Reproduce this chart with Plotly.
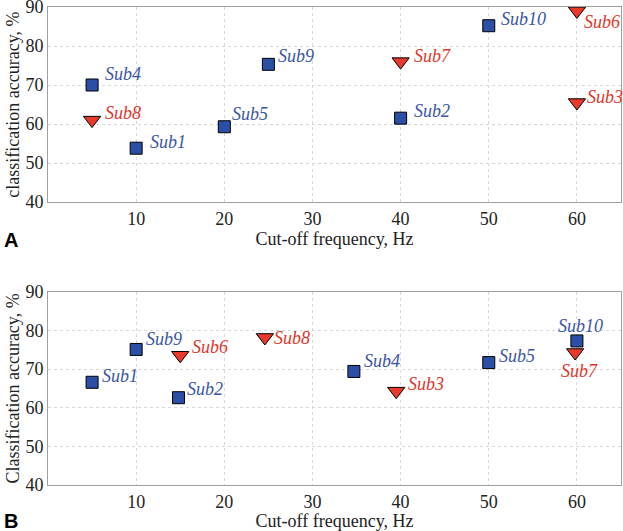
import plotly.graph_objects as go

# ---- Panel A data ----
a_sq_names = ["Sub4", "Sub1", "Sub5", "Sub9", "Sub2", "Sub10"]
a_sq_x = [5, 10, 20, 25, 40, 50]
a_sq_y = [70.0, 53.8, 59.3, 75.3, 61.5, 85.2]
a_tri_names = ["Sub8", "Sub7", "Sub6", "Sub3"]
a_tri_x = [5, 40, 60, 60]
a_tri_y = [61.0, 76.0, 89.0, 65.5]

# ---- Panel B data ----
b_sq_names = ["Sub1", "Sub9", "Sub2", "Sub4", "Sub5", "Sub10"]
b_sq_x = [5, 10, 14.8, 34.7, 50, 60]
b_sq_y = [66.6, 75.1, 62.6, 69.4, 71.7, 77.3]
b_tri_names = ["Sub6", "Sub8", "Sub3", "Sub7"]
b_tri_x = [15, 24.6, 39.5, 59.8]
b_tri_y = [73.6, 78.2, 64.3, 74.3]

x_ticks = [10, 20, 30, 40, 50, 60]
y_ticks = [40, 50, 60, 70, 80, 90]

# label offsets (pixels: dx, dy with dy positive = down) and anchors
a_sq_off = [(11, -11, "left"), (12, -6, "left"), (6, -13, "left"), (8, -8, "left"), (11, -7, "left"), (10, -7, "left")]
a_tri_off = [(11, -7, "left"), (11, -6, "left"), (5, 11, "left"), (8, -6, "left")]
b_sq_off = [(8, -6, "left"), (8, -10, "left"), (7, -9, "left"), (8, -10, "left"), (8, -7, "left"), (4, -15, "center")]
b_tri_off = [(10, -8, "left"), (7, 1, "left"), (10, -7, "left"), (4, 18, "center")]

BLUE = "#2b4fa6"
RED = "#e8392a"
BLUE_T = "#3a55a6"
RED_T = "#e0352b"
FONT = "Liberation Serif, Times New Roman, Times, serif"

fig = go.Figure()

def add_panel(xa, ya, sqx, sqy, sqn, sqo, trx, tryy, trn, tro):
    fig.add_trace(go.Scatter(x=sqx, y=sqy, mode="markers", xaxis=xa, yaxis=ya,
                             marker=dict(symbol="square", size=12, color=BLUE,
                                         line=dict(color="black", width=1)),
                             showlegend=False, hoverinfo="skip", cliponaxis=False))
    fig.add_trace(go.Scatter(x=trx, y=tryy, mode="markers", xaxis=xa, yaxis=ya,
                             marker=dict(symbol="triangle-down", size=15, color=RED,
                                         line=dict(color="black", width=1)),
                             showlegend=False, hoverinfo="skip", cliponaxis=False))
    for xs, ys, ns, os_, col in ((sqx, sqy, sqn, sqo, BLUE_T), (trx, tryy, trn, tro, RED_T)):
        for x, y, n, (dx, dy, anc) in zip(xs, ys, ns, os_):
            fig.add_annotation(x=x, y=y, xref=xa, yref=ya, text="<i>" + n + "</i>",
                               showarrow=False, xanchor=anc, yanchor="middle",
                               xshift=dx, yshift=-dy,
                               font=dict(family=FONT, size=18, color=col))

add_panel("x", "y", a_sq_x, a_sq_y, a_sq_names, a_sq_off, a_tri_x, a_tri_y, a_tri_names, a_tri_off)
add_panel("x2", "y2", b_sq_x, b_sq_y, b_sq_names, b_sq_off, b_tri_x, b_tri_y, b_tri_names, b_tri_off)

TXT = "#222222"
axis_common = dict(range=[0, 65], tickvals=x_ticks, showgrid=True,
                   gridcolor="#d8d8d8", griddash="dot", gridwidth=1,
                   showline=True, linecolor="#a0a0a0", linewidth=1, mirror=True,
                   zeroline=False, ticks="", automargin=False, ticklabeloverflow="allow",
                   tickfont=dict(family=FONT, size=18, color=TXT))
yaxis_common = dict(range=[40, 90], tickvals=y_ticks, showgrid=True,
                    gridcolor="#d8d8d8", griddash="dot", gridwidth=1,
                    showline=True, linecolor="#a0a0a0", linewidth=1, mirror=True,
                    zeroline=False, ticks="", automargin=False, ticklabeloverflow="allow",
                    tickfont=dict(family=FONT, size=18, color=TXT))
tfont = dict(family=FONT, size=18, color=TXT)

fig.update_layout(
    width=623, height=531,
    margin=dict(l=48, r=2, t=7, b=46),
    paper_bgcolor="white", plot_bgcolor="white",
    xaxis=dict(axis_common, domain=[0, 1], anchor="y",
               title=dict(text="Cut-off frequency, Hz", font=tfont, standoff=0)),
    yaxis=dict(yaxis_common, domain=[0.592, 1], anchor="x",
               title=dict(text="classification accuracy, %", font=tfont, standoff=1)),
    xaxis2=dict(axis_common, domain=[0, 1], anchor="y2",
                title=dict(text="Cut-off frequency, Hz", font=tfont, standoff=0)),
    yaxis2=dict(yaxis_common, domain=[0, 0.404], anchor="x2",
                title=dict(text="Classification accuracy, %", font=tfont, standoff=1)),
)

for lab, ypx in (("A", 240), ("B", 521)):
    fig.add_annotation(text="<b>" + lab + "</b>", xref="paper", yref="paper",
                       x=-46 / 573, y=1 - (ypx - 7) / 478, xanchor="left", yanchor="middle",
                       showarrow=False, font=dict(family="Liberation Sans, Arial, sans-serif", size=20, color="black"))

fig.write_html("out.html", config={"displayModeBar": False},
               post_script="document.body.style.margin='0';document.body.style.overflow='hidden';")
